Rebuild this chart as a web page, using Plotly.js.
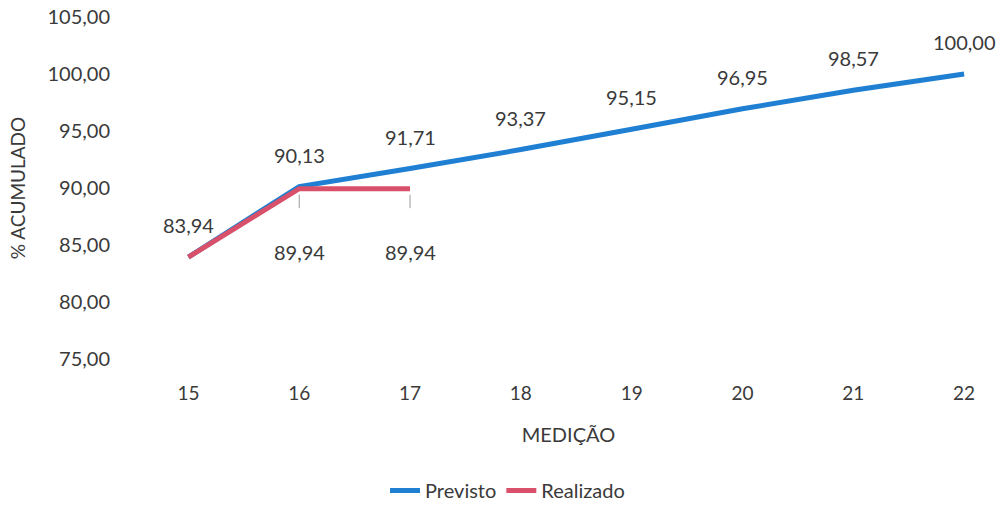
<!DOCTYPE html>
<html>
<head>
<meta charset="utf-8">
<script src="https://cdn.plot.ly/plotly-3.0.1.min.js"></script>
<style>html,body{margin:0;padding:0;background:#fff;}#chart{width:1004px;height:510px;}</style>
</head>
<body>
<div id="chart"></div>
<script>
const categories = [15, 16, 17, 18, 19, 20, 21, 22];
const previsto = [83.94, 90.13, 91.71, 93.37, 95.15, 96.95, 98.57, 100.00];
const realizadoCats = [15, 16, 17];
const realizado = [83.94, 89.94, 89.94];
const realizadoShowLabel = [false, true, true];
const yTicks = [75, 80, 85, 90, 95, 100, 105];

const fontFam = 'Lato, "Open Sans", "Noto Sans", sans-serif';
const txtColor = '#3a3a3a';
const fmt = v => v.toFixed(2).replace('.', ',');

const traces = [
  {
    x: categories, y: previsto, name: 'Previsto', type: 'scatter', mode: 'lines',
    line: {color: '#1f7fd2', width: 5},
    hoverinfo: 'skip'
  },
  {
    x: realizadoCats, y: realizado, name: 'Realizado', type: 'scatter', mode: 'lines',
    line: {color: '#d9506a', width: 5},
    hoverinfo: 'skip'
  }
];

const annotations = [];
categories.forEach((c, i) => {
  annotations.push({
    x: c, y: previsto[i], xref: 'x', yref: 'y', text: fmt(previsto[i]),
    showarrow: false, yshift: 32,
    font: {family: fontFam, size: 20, color: txtColor}
  });
});
realizadoCats.forEach((c, i) => {
  if (!realizadoShowLabel[i]) return;
  annotations.push({
    x: c, y: realizado[i], xref: 'x', yref: 'y', text: fmt(realizado[i]),
    showarrow: true, arrowhead: 0, arrowwidth: 1, arrowcolor: '#9a9a9a',
    ax: 0, ay: 63, standoff: 6, startstandoff: 30,
    font: {family: fontFam, size: 20, color: txtColor}
  });
});

const layout = {
  width: 1004, height: 510,
  margin: {l: 133, r: 0, t: 17, b: 147},
  paper_bgcolor: '#ffffff', plot_bgcolor: '#ffffff',
  separators: ',.',
  font: {family: fontFam, size: 20, color: txtColor},
  showlegend: true,
  legend: {orientation: 'h', x: 0.43, xanchor: 'center', y: -0.385, yanchor: 'middle',
           font: {family: fontFam, size: 20, color: txtColor}},
  annotations: annotations,
  xaxis: {
    range: [14.5, 22.36], tickvals: categories, ticktext: categories.map(String),
    showgrid: false, zeroline: false, showline: false, ticks: '',
    ticklabelstandoff: 21,
    tickfont: {family: fontFam, size: 19, color: txtColor},
    title: {text: 'MEDIÇÃO', font: {family: fontFam, size: 20, color: txtColor}, standoff: 24}
  },
  yaxis: {
    range: [75, 105], tickvals: yTicks, tickformat: '.2f',
    showgrid: false, zeroline: false, showline: false, ticks: '',
    ticklabelstandoff: 22,
    tickfont: {family: fontFam, size: 20, color: txtColor},
    title: {text: '% ACUMULADO', font: {family: fontFam, size: 19, color: txtColor}, standoff: 16}
  }
};

Plotly.newPlot('chart', traces, layout, {displayModeBar: false, staticPlot: true});
</script>
</body>
</html>
